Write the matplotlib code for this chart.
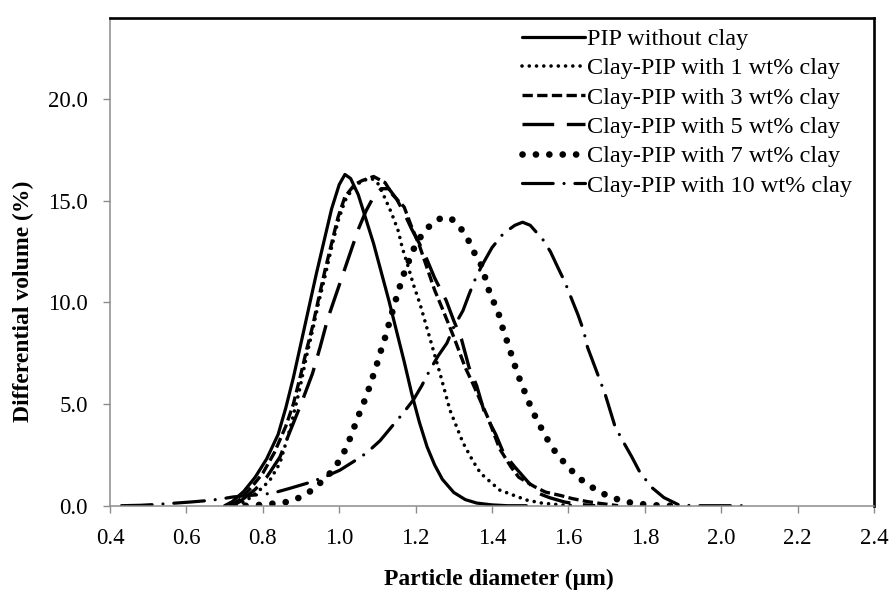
import matplotlib
matplotlib.use("Agg")
import matplotlib.pyplot as plt
from matplotlib.ticker import FormatStrFormatter

plt.rcParams['font.family'] = ['Liberation Serif', 'DejaVu Serif']

# ---------------- data ----------------
x_pip = [0.70, 0.72, 0.75, 0.78, 0.81, 0.84, 0.86, 0.88, 0.90, 0.92, 0.94, 0.96, 0.98,
         1.00, 1.015, 1.03, 1.05, 1.07, 1.09, 1.11, 1.13, 1.15, 1.17, 1.19, 1.21, 1.23,
         1.25, 1.27, 1.30, 1.33, 1.36, 1.40, 1.44, 1.49]
y_pip = [0.0, 0.2, 0.7, 1.4, 2.3, 3.5, 4.8, 6.3, 8.0, 9.7, 11.4, 13.0, 14.6,
         15.8, 16.3, 16.1, 15.3, 14.1, 12.9, 11.5, 10.1, 8.6, 7.1, 5.5, 4.1, 2.9,
         2.0, 1.3, 0.65, 0.3, 0.13, 0.04, 0.0, 0.0]

x_1wt = [0.73, 0.75, 0.77, 0.80, 0.82, 0.845, 0.87, 0.895, 0.915, 0.93, 0.945, 0.963,
         0.98, 0.997, 1.015, 1.035, 1.06, 1.085, 1.10, 1.111, 1.137, 1.155, 1.165, 1.18,
         1.194, 1.212, 1.238, 1.264, 1.29, 1.324, 1.35, 1.37, 1.42, 1.49, 1.53, 1.58, 1.62]
y_1wt = [0.05, 0.18, 0.43, 0.9, 1.3, 2.1, 3.7, 5.6, 7.4, 8.6, 9.9, 11.3,
         12.7, 14.0, 15.0, 15.6, 16.0, 16.1, 15.9, 15.5, 14.4, 13.5, 12.7, 11.8,
         10.9, 9.9, 8.2, 6.5, 4.7, 3.1, 2.2, 1.6, 0.77, 0.28, 0.13, 0.04, 0.0]

x_3wt = [0.72, 0.74, 0.77, 0.80, 0.83, 0.86, 0.88, 0.90, 0.915, 0.93, 0.945, 0.963,
         0.98, 0.997, 1.015, 1.04, 1.06, 1.09, 1.12, 1.14, 1.17, 1.19, 1.21, 1.23,
         1.25, 1.27, 1.30, 1.33, 1.35, 1.39, 1.42, 1.45, 1.47, 1.51, 1.54, 1.58,
         1.61, 1.65, 1.68, 1.73]
y_3wt = [0.05, 0.3, 0.9, 1.6, 2.6, 3.9, 5.0, 6.5, 7.7, 8.8, 10.1, 11.6,
         12.9, 14.2, 15.2, 15.8, 16.0, 16.2, 15.9, 15.3, 14.7, 13.7, 12.8, 11.7,
         10.6, 9.7, 8.3, 6.8, 6.0, 4.3, 2.8, 1.9, 1.4, 0.95, 0.67, 0.5,
         0.35, 0.2, 0.12, 0.0]

x_5wt = [0.72, 0.74, 0.78, 0.81, 0.845, 0.87, 0.90, 0.93, 0.95, 0.97, 0.99, 1.01,
         1.03, 1.05, 1.07, 1.09, 1.11, 1.13, 1.15, 1.17, 1.19, 1.21, 1.23, 1.25,
         1.28, 1.30, 1.32, 1.34, 1.36, 1.38, 1.41, 1.43, 1.46, 1.49, 1.52, 1.55,
         1.59, 1.63, 1.67]
y_5wt = [0.0, 0.2, 0.8, 1.4, 2.4, 3.6, 5.0, 6.5, 7.8, 9.2, 10.3, 11.4,
         12.5, 13.6, 14.5, 15.2, 15.6, 15.6, 15.1, 14.4, 13.6, 12.9, 12.1, 11.2,
         10.1, 9.1, 8.2, 6.8, 5.9, 4.6, 3.5, 2.6, 1.9, 1.26, 0.62, 0.4,
         0.18, 0.06, 0.0]

x_7wt = [0.72, 0.76, 0.80, 0.836, 0.871, 0.902, 0.932, 0.958, 0.984, 1.003, 1.02,
         1.034, 1.046, 1.06, 1.072, 1.083, 1.095, 1.105, 1.116, 1.125, 1.146, 1.167,
         1.194, 1.212, 1.233, 1.26, 1.28, 1.295, 1.32, 1.34, 1.355, 1.373, 1.384,
         1.395, 1.41, 1.42, 1.43, 1.443, 1.453, 1.465, 1.477, 1.49, 1.505, 1.521,
         1.538, 1.556, 1.576, 1.60, 1.625, 1.654, 1.685, 1.717, 1.753, 1.79, 1.83,
         1.86, 1.90]
y_7wt = [0.0, 0.0, 0.05, 0.12, 0.2, 0.45, 0.8, 1.26, 1.75, 2.3, 2.9,
         3.6, 4.2, 4.9, 5.4, 6.1, 6.7, 7.4, 8.0, 8.6, 10.0, 11.3,
         12.6, 13.2, 13.7, 14.1, 14.2, 14.1, 13.6, 13.0, 12.4, 11.8, 11.1,
         10.4, 9.8, 9.3, 8.6, 7.9, 7.3, 6.6, 6.0, 5.4, 4.7, 4.1,
         3.5, 2.9, 2.4, 1.9, 1.4, 1.0, 0.64, 0.38, 0.18, 0.08, 0.02,
         0.0, 0.0]

x_10wt = [0.43, 0.48, 0.52, 0.565, 0.61, 0.654, 0.69, 0.722, 0.76, 0.80, 0.832, 0.87,
          0.915, 0.96, 1.002, 1.04, 1.072, 1.107, 1.138, 1.165, 1.194, 1.216, 1.238,
          1.26, 1.282, 1.30, 1.324, 1.34, 1.355, 1.373, 1.40, 1.43, 1.46, 1.48, 1.50,
          1.533, 1.553, 1.573, 1.591, 1.61, 1.625, 1.64, 1.65, 1.666, 1.68, 1.696,
          1.709, 1.722, 1.745, 1.766, 1.787, 1.818, 1.85, 1.89, 1.934, 1.97, 2.07]
y_10wt = [0.0, 0.02, 0.06, 0.12, 0.18, 0.25, 0.33, 0.43, 0.5, 0.55, 0.65, 0.85,
          1.1, 1.4, 1.75, 2.2, 2.6, 3.2, 3.9, 4.5, 5.2, 5.9, 6.7,
          7.4, 8.0, 8.8, 9.6, 10.4, 11.1, 11.8, 12.7, 13.4, 13.8, 13.95, 13.8,
          13.1, 12.5, 11.7, 11.0, 10.1, 9.4, 8.6, 7.8, 7.0, 6.3, 5.5,
          4.7, 3.9, 3.1, 2.4, 1.65, 0.9, 0.4, 0.03, 0.0, 0.0, 0.0]

labels = ["PIP without clay",
          "Clay-PIP with 1 wt% clay",
          "Clay-PIP with 3 wt% clay",
          "Clay-PIP with 5 wt% clay",
          "Clay-PIP with 7 wt% clay",
          "Clay-PIP with 10 wt% clay"]

x_ticks = [0.4, 0.6, 0.8, 1.0, 1.2, 1.4, 1.6, 1.8, 2.0, 2.2, 2.4]
y_ticks = [0.0, 5.0, 10.0, 15.0, 20.0]

# ---------------- figure ----------------
W, H = 889, 592
fig = plt.figure(figsize=(W / 100, H / 100), dpi=100)
ax = fig.add_axes([110 / W, 1 - 505.7 / H, (874 - 110) / W, (505.7 - 18) / H])

series = [(x_pip, y_pip), (x_1wt, y_1wt), (x_3wt, y_3wt),
          (x_5wt, y_5wt), (x_7wt, y_7wt), (x_10wt, y_10wt)]

styles = [
    dict(lw=2.3, ls='-', solid_capstyle='round'),
    dict(lw=2.6, ls=(0, (0.01, 2.0)), dash_capstyle='round'),
    dict(lw=2.4, ls=(0, (3.1, 1.3)), dash_capstyle='butt'),
    dict(lw=2.4, ls=(0, (9.5, 3.8)), dash_capstyle='butt'),
    dict(lw=4.8, ls=(0, (0.01, 2.0)), dash_capstyle='round'),
    dict(lw=2.3, ls=(0, (9.6, 3.4, 0.01, 3.4)), dash_capstyle='round'),
]

for (xs, ys), lab, st in zip(series, labels, styles):
    ax.plot(xs, ys, color='black', label=lab, **st)

ax.set_xlim(0.4, 2.4)
ax.set_ylim(0, 24)
ax.set_xticks(x_ticks)
ax.set_yticks(y_ticks)
ax.xaxis.set_major_formatter(FormatStrFormatter('%.1f'))
ax.yaxis.set_major_formatter(FormatStrFormatter('%.1f'))

gray = '#8c8c8c'
for s in ['left', 'bottom']:
    ax.spines[s].set_color(gray)
    ax.spines[s].set_linewidth(1.1)
for s in ['top', 'right']:
    ax.spines[s].set_color('black')
    ax.spines[s].set_linewidth(1.9)

ax.tick_params(axis='both', direction='out', length=5, width=1.0, color=gray,
               labelsize=16.5, pad=11, labelcolor='black')

fig.text(499 / W, 1 - 579 / H, 'Particle diameter (\u03bcm)', ha='center', va='center',
         fontsize=17, fontweight='bold')
fig.text(23 / W, 1 - 301 / H, 'Differential volume (%)', ha='center', va='center',
         rotation=90, fontsize=17, fontweight='bold')

leg = ax.legend(loc='upper left', bbox_to_anchor=(522 / W, 1 - 28 / H),
                bbox_transform=fig.transFigure, frameon=False, fontsize=17.5,
                borderpad=0, borderaxespad=0, handlelength=2.6, handletextpad=0.08,
                labelspacing=0.3)

fig.savefig('out.png', dpi=100)
